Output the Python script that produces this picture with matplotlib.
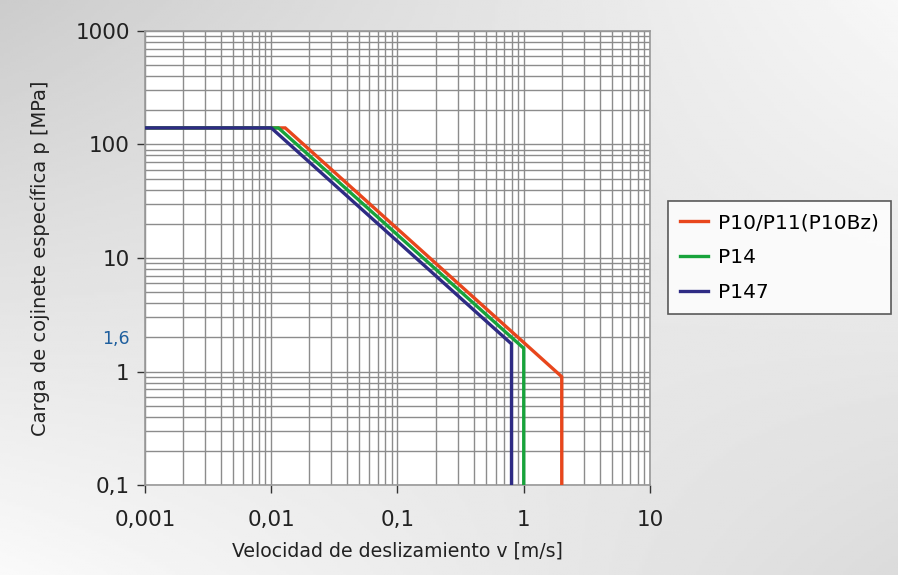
import numpy as np
import matplotlib
matplotlib.use("Agg")
import matplotlib.pyplot as plt
from matplotlib.ticker import LogLocator, FixedLocator, NullFormatter

# Data
series_names = ["P10/P11(P10Bz)", "P14", "P147"]
p147_v = [0.001, 0.01, 0.8, 0.8]
p147_p = [140, 140, 1.75, 0.1]
p14_v = [0.001, 0.0114, 1.0, 1.0]
p14_p = [140, 140, 1.6, 0.1]
p10_v = [0.001, 0.0129, 2.0, 2.0]
p10_p = [140, 140, 0.9, 0.1]
colors = ["#e8461c", "#17a33b", "#2e2b84"]

x_ticks = [0.001, 0.01, 0.1, 1, 10]
x_labels = ["0,001", "0,01", "0,1", "1", "10"]
y_ticks = [0.1, 1, 10, 100, 1000]
y_labels = ["0,1", "1", "10", "100", "1000"]

fig = plt.figure(figsize=(8.98, 5.75), dpi=100)

# gradient background (bilinear between corner shades)
bg = fig.add_axes([0, 0, 1, 1], zorder=-10)
xx = np.linspace(0, 1, 300)
yy = np.linspace(0, 1, 200)
X, Y = np.meshgrid(xx, yy)  # Y=0 top row
tl, tr, bl, br = 0.80, 0.97, 0.98, 0.86
G = (tl * (1 - X) * (1 - Y) + tr * X * (1 - Y) + bl * (1 - X) * Y + br * X * Y)
bg.imshow(G, cmap="gray", vmin=0, vmax=1, aspect="auto", extent=[0, 1, 0, 1], origin="upper")
bg.axis("off")

ax = fig.add_axes([0.1615, 0.1565, 0.5623, 0.7896])
ax.set_facecolor("white")
ax.set_xscale("log")
ax.set_yscale("log")
ax.set_xlim(0.001, 10)
ax.set_ylim(0.1, 1000)

ax.plot(p10_v, p10_p, color=colors[0], lw=2.4, label=series_names[0], zorder=3, solid_joinstyle="miter")
ax.plot(p14_v, p14_p, color=colors[1], lw=2.4, label=series_names[1], zorder=4, solid_joinstyle="miter")
ax.plot(p147_v, p147_p, color=colors[2], lw=2.4, label=series_names[2], zorder=5, solid_joinstyle="miter")

ax.xaxis.set_major_locator(FixedLocator(x_ticks))
ax.set_xticklabels(x_labels)
ax.yaxis.set_major_locator(FixedLocator(y_ticks))
ax.set_yticklabels(y_labels)
ax.xaxis.set_minor_locator(LogLocator(base=10, subs=np.arange(2, 10), numticks=20))
ax.yaxis.set_minor_locator(LogLocator(base=10, subs=np.arange(2, 10), numticks=20))
ax.xaxis.set_minor_formatter(NullFormatter())
ax.yaxis.set_minor_formatter(NullFormatter())

ax.grid(True, which="both", color="#8c8c8c", lw=1.0)
ax.tick_params(which="minor", length=0)
ax.tick_params(which="major", length=6, width=1, color="#333333", labelsize=15.5,
               labelcolor="#222222", direction="out")
ax.tick_params(axis="x", which="major", pad=12)
ax.tick_params(axis="y", which="major", pad=5)
for s in ax.spines.values():
    s.set_color("#999999")
    s.set_linewidth(1.2)

ax.set_xlabel("Velocidad de deslizamiento v [m/s]", fontsize=13.6, color="#222222", labelpad=8)
ax.set_ylabel("Carga de cojinete específica p [MPa]", fontsize=14, color="#222222", labelpad=18)

ax.text(-0.03, 1.95, "1,6", transform=ax.get_yaxis_transform(), ha="right", va="center",
        fontsize=12.5, color="#1f5f9e")

leg = fig.legend(loc="upper left", bbox_to_anchor=(668/898, 1 - 201/575), fontsize=14.5,
                 frameon=True, fancybox=False, edgecolor="#333333", handlelength=1.4,
                 borderpad=0.6, labelspacing=0.8, handletextpad=0.5, borderaxespad=0)
leg.get_frame().set_linewidth(1.2)

fig.savefig("out.png", dpi=100)
